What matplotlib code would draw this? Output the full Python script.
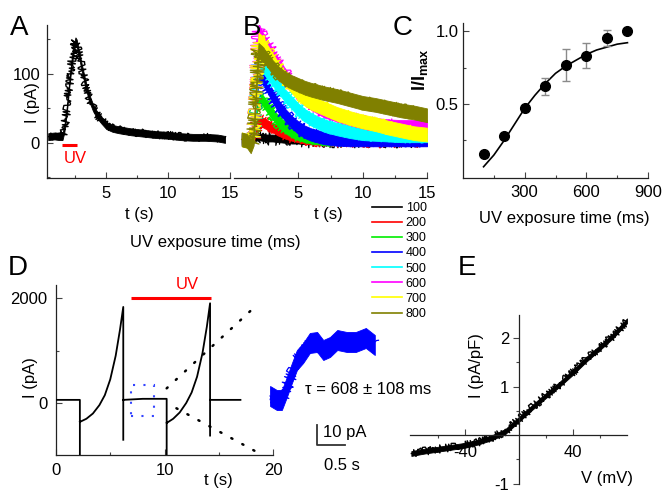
import numpy as np
import matplotlib
matplotlib.use('Agg')
import matplotlib.pyplot as plt
from matplotlib.lines import Line2D
from matplotlib.patches import Rectangle
from matplotlib.ticker import FixedLocator

plt.rcParams['font.family'] = ['Liberation Sans', 'DejaVu Sans']
plt.rcParams['mathtext.default'] = 'regular'
plt.rcParams['axes.unicode_minus'] = False

# ---------------- data ----------------
# Panel A : single response (t in s, I in pA)
a_t = [0.3, 0.8, 1.2, 1.45, 1.6, 1.8, 2.0, 2.2, 2.4, 2.5, 2.6, 2.8, 3.0, 3.3, 3.6, 3.9,
       4.2, 4.6, 5.0, 5.5, 6.0, 7.0, 8.0, 9.0, 10.0, 11.0, 12.0, 13.0, 14.0, 14.6]
a_i = [9, 10, 9, 9, 20, 48, 85, 118, 140, 148, 145, 128, 110, 86, 66, 52,
       42, 33, 25, 21, 19, 16, 14, 12, 11, 9, 8, 8, 7, 5]
a_noise = 5
a_uv = [1.45, 2.65]

# Panel B : responses for different UV exposure times
b_t = [0.6, 1.0, 1.3, 1.5, 1.7, 1.9, 2.2, 2.6, 3.0, 3.5, 4.0, 4.5, 5.0, 5.5, 6.0,
       7.0, 8.0, 9.0, 10.0, 11.0, 12.0, 13.0, 14.0, 15.0]
b_labels = ['100', '200', '300', '400', '500', '600', '700', '800']
b_100 = [5, 3, 0, 5, 8, 9, 8, 7, 7, 6, 5, 4, 4, 3, 3, 3, 3, 3, 3, 3, 3, 3, 3, 3]
b_200 = [5, 3, 0, 5, 20, 33, 30, 26, 22, 17, 13, 10, 8, 6, 5, 4, 4, 3, 3, 3, 3, 3, 3, 3]
b_300 = [5, 3, 0, 5, 40, 68, 62, 52, 42, 30, 22, 16, 12, 9, 7, 5, 5, 5, 5, 6, 6, 6, 8, 10]
b_400 = [5, 3, 0, 5, 55, 100, 95, 82, 68, 52, 40, 30, 22, 16, 12, 7, 5, 4, 4, 4, 4, 4, 4, 4]
b_500 = [5, 3, 0, 5, 60, 115, 112, 102, 92, 80, 68, 58, 48, 40, 34, 25, 20, 16, 13, 12, 11, 10, 10, 10]
b_600 = [5, 3, 0, 5, 80, 165, 152, 140, 128, 112, 98, 85, 73, 64, 57, 46, 40, 35, 30, 27, 25, 24, 24, 24]
b_700 = [5, 3, 0, 5, 75, 150, 145, 132, 120, 105, 93, 82, 72, 64, 58, 50, 42, 36, 31, 27, 22, 18, 14, 12]
b_800 = [5, 3, -5, 5, 70, 135, 130, 120, 110, 100, 93, 88, 84, 80, 77, 72, 68, 63, 58, 55, 51, 47, 44, 40]
b_noise = [5, 7, 8, 9, 9, 9, 10, 10]
b_colors = ['#000000', '#ff0000', '#00ee00', '#0000ff', '#00ffff', '#ff00ff', '#ffff00', '#808000']

# Panel C : normalized response vs UV exposure time
c_x = [100, 200, 300, 400, 500, 600, 700, 800]
c_y = [0.16, 0.28, 0.47, 0.62, 0.77, 0.83, 0.95, 1.00]
c_err = [0.0, 0.0, 0.0, 0.055, 0.11, 0.085, 0.055, 0.0]
c_fit_x = [100, 150, 200, 250, 300, 350, 400, 450, 500, 550, 600, 650, 700, 750, 800]
c_fit_y = [0.07, 0.15, 0.25, 0.36, 0.47, 0.56, 0.64, 0.71, 0.76, 0.80, 0.84, 0.87, 0.89, 0.91, 0.92]

# Panel D : ramp protocol currents (t in s, I in pA)
nan = np.nan
d_t = [0, 2.2, 2.2, nan, 2.2, 2.8, 3.4, 4.0, 4.5, 5.0, 5.5, 5.9, 6.2, 6.2, nan,
       6.2, 8.0, 10.2, 10.2, nan,
       10.2, 10.8, 11.4, 12.0, 12.5, 13.0, 13.5, 13.9, 14.2, 14.2, nan, 14.2, 17.0]
d_i = [60, 60, -1000, nan, -360, -300, -200, -40, 150, 450, 900, 1400, 1830, -700, nan,
       60, 80, 80, -1000, nan,
       -380, -300, -180, 0, 200, 500, 950, 1450, 1900, -620, nan, 60, 60]
d_uv = [6.95, 14.3]
d_uv_level = 2000
d_box_t = [6.95, 9.0]
d_box_i = [-250, 340]
d_guide_up_t = [10.2, 17.9]
d_guide_up_i = [280, 1750]
d_guide_dn_t = [11.1, 18.3]
d_guide_dn_i = [-100, -910]

# Inset : zoomed current (t in s, I in pA)
in_t = [0.18, 0.30, 0.39, 0.48, 0.57, 0.66, 0.77, 0.89, 1.02, 1.13, 1.25, 1.38, 1.55, 1.71, 1.89, 2.05]
in_i = [2, 0, 0, 6.5, 13.5, 20, 23.5, 28.5, 29, 25, 26.5, 30, 29, 29, 31, 27.5]
in_noise = 5
sb_origin = (1.02, -22.5)
sb_t = 0.5
sb_i = 10

# Panel E : I-V relation
e_v = [-80, -70, -60, -50, -40, -30, -20, -10, 0, 10, 20, 30, 40, 50, 60, 70, 80]
e_i = [-0.38, -0.33, -0.29, -0.25, -0.21, -0.14, -0.05, 0.08, 0.33, 0.58, 0.82, 1.05,
       1.30, 1.57, 1.81, 2.06, 2.36]
e_noise = 0.05

# ---------------- figure ----------------
W, H = 666, 491
fig = plt.figure(figsize=(W / 100, H / 100), dpi=100)


def px_axes(l, t, r, b):
    ax = fig.add_axes([l / W, 1 - b / H, (r - l) / W, (b - t) / H])
    ax.patch.set_alpha(0)
    return ax


def ftext(x, y, s, **kw):
    kw.setdefault('ha', 'center')
    kw.setdefault('va', 'center')
    kw.setdefault('fontsize', 12)
    return fig.text(x / W, 1 - y / H, s, **kw)


def style(ax, direction='in'):
    for s in ['top', 'right']:
        ax.spines[s].set_visible(False)
    for s in ['left', 'bottom']:
        ax.spines[s].set_color('#222222')
        ax.spines[s].set_linewidth(0.9)
    ax.tick_params(which='both', direction=direction, labelsize=12, width=0.8, color='#444444')
    ax.tick_params(which='major', length=4)
    ax.tick_params(which='minor', length=2.5)


def noisy(ax, x, y, half, color, jitter, z=2, lw=1.0):
    """Noisy recording drawn as a band plus a sketched (jagged) line."""
    y = np.asarray(y, float)
    ax.fill_between(x, y - half, y + half, color=color, lw=0.6, zorder=z)
    ln, = ax.plot(x, y, color=color, lw=lw, zorder=z)
    ln.set_sketch_params(scale=jitter, length=1.0, randomness=2)


# ---- Panel A ----
axA = px_axes(47, 25, 230, 178)
style(axA)
noisy(axA, a_t, a_i, a_noise, 'black', jitter=4, lw=1.0)
axA.plot(a_uv, [-3, -3], color='#ff0000', lw=2.2, solid_capstyle='butt')
axA.text(2.5, -23, 'UV', color='#ff0000', fontsize=12, ha='center', va='center')
axA.set_xlim(0.2, 15)
axA.set_ylim(-51, 171)
axA.xaxis.set_major_locator(FixedLocator([5, 10, 15]))
axA.xaxis.set_minor_locator(FixedLocator([2.5, 7.5, 12.5]))
axA.yaxis.set_major_locator(FixedLocator([0, 100]))
axA.yaxis.set_minor_locator(FixedLocator([-50, 50, 150]))
axA.tick_params(axis='x', pad=6)
axA.tick_params(axis='y', pad=5)
ftext(139, 215, 't (s)')
ftext(32, 103, 'I (pA)', rotation=90)

# ---- Panel B ----
axB = px_axes(234, 25, 427, 178)
style(axB)
axB.spines['left'].set_visible(False)
axB.tick_params(axis='y', left=False, labelleft=False)
for k, (vals, nz, col) in enumerate(zip([b_100, b_200, b_300, b_400, b_500, b_600, b_700, b_800],
                                        b_noise, b_colors)):
    noisy(axB, b_t, vals, nz, col, jitter=7, z=2 + k * 0.01, lw=0.9)
axB.set_xlim(0, 15)
axB.set_ylim(-51, 171)
axB.xaxis.set_major_locator(FixedLocator([5, 10, 15]))
axB.xaxis.set_minor_locator(FixedLocator([2.5, 7.5, 12.5]))
axB.tick_params(axis='x', pad=6)
ftext(328, 215, 't (s)')
handles = [Line2D([], [], color=c, lw=1.2) for c in b_colors]
axB.legend(handles, b_labels, loc='upper left', bbox_to_anchor=(372 / W, 1 - 202 / H),
           bbox_transform=fig.transFigure, frameon=False, fontsize=9, handlelength=2.4,
           handletextpad=0.3, labelspacing=0.25, borderpad=0, borderaxespad=0)
ftext(215, 243, 'UV exposure time (ms)')

# ---- Panel C ----
axC = px_axes(463, 23, 648, 178)
style(axC)
axC.plot(c_fit_x, c_fit_y, color='black', lw=1.2, zorder=2)
axC.errorbar(c_x, c_y, yerr=c_err, fmt='o', color='black', ms=7, ecolor='#8a8a8a',
             elinewidth=1, capsize=3, capthick=1, zorder=3)
axC.set_xlim(0, 900)
axC.set_ylim(-0.007, 1.055)
axC.xaxis.set_major_locator(FixedLocator([300, 600, 900]))
axC.xaxis.set_minor_locator(FixedLocator([150, 450, 750]))
axC.yaxis.set_major_locator(FixedLocator([0.5, 1.0]))
axC.yaxis.set_minor_locator(FixedLocator([0.25, 0.75]))
axC.tick_params(axis='x', pad=5)
axC.tick_params(axis='y', pad=3)
ftext(564, 218, 'UV exposure time (ms)')
ftext(420, 70, 'I/I$_{max}$', rotation=90, fontsize=13, fontweight='bold')

# ---- Panel D ----
axD = px_axes(56, 285, 273, 455)
style(axD)
axD.plot(d_t, d_i, color='black', lw=1.3, zorder=3)
axD.plot(d_uv, [d_uv_level, d_uv_level], color='#ff0000', lw=2.2, solid_capstyle='butt', clip_on=False)
axD.text(12.1, 2250, 'UV', color='#ff0000', fontsize=12, ha='center', va='center')
axD.add_patch(Rectangle((d_box_t[0], d_box_i[0]), d_box_t[1] - d_box_t[0], d_box_i[1] - d_box_i[0],
                        fill=False, edgecolor='#3344ff', lw=1.5, linestyle=(0, (1, 4))))
axD.plot(d_guide_up_t, d_guide_up_i, color='black', lw=1.8, linestyle=(0, (0.5, 4.5)),
         dash_capstyle='round', clip_on=False)
axD.plot(d_guide_dn_t, d_guide_dn_i, color='black', lw=1.8, linestyle=(0, (0.5, 4.5)),
         dash_capstyle='round', clip_on=False)
axD.set_xlim(0, 20)
axD.set_ylim(-990, 2248)
axD.xaxis.set_major_locator(FixedLocator([0, 10, 20]))
axD.xaxis.set_minor_locator(FixedLocator([5, 15]))
axD.yaxis.set_major_locator(FixedLocator([0, 2000]))
axD.yaxis.set_minor_locator(FixedLocator([1000]))
axD.tick_params(axis='both', pad=6)
ftext(218, 481, 't (s)')
ftext(31, 378, 'I (pA)', rotation=90)

# ---- Inset ----
axIn = px_axes(260, 320, 440, 475)
axIn.axis('off')
noisy(axIn, in_t, in_i, in_noise, '#0000ff', jitter=6, lw=0.9)
axIn.plot([sb_origin[0], sb_origin[0], sb_origin[0] + sb_t],
          [sb_origin[1] + sb_i, sb_origin[1], sb_origin[1]], color='#333333', lw=1.3)
axIn.text(sb_origin[0] + 0.1, sb_origin[1] + 6, '10 pA', fontsize=12, ha='left', va='center')
axIn.text(sb_origin[0] + 0.44, sb_origin[1] - 10, '0.5 s', fontsize=12, ha='center', va='center')
axIn.text(0.80, 5, 'τ = 608 ± 108 ms', fontsize=12, ha='left', va='center')
axIn.set_xlim(0, 180 / 56)
axIn.set_ylim(-37.5, 40)

# ---- Panel E ----
axE = px_axes(410, 315, 627, 484)
style(axE, direction='out')
axE.set_axisbelow(True)
axE.spines['left'].set_position(('data', 0))
axE.spines['bottom'].set_position(('data', 0))
noisy(axE, e_v, e_i, e_noise, 'black', jitter=4, lw=1.0)
axE.set_xlim(-81, 80)
axE.set_ylim(-1.01, 2.48)
axE.xaxis.set_major_locator(FixedLocator([-40, 40]))
axE.xaxis.set_minor_locator(FixedLocator([-60, -20, 20, 60]))
axE.yaxis.set_major_locator(FixedLocator([-1, 1, 2]))
axE.yaxis.set_minor_locator(FixedLocator([-0.5, 0.5, 1.5]))
axE.tick_params(axis='x', direction='in', pad=7)
axE.tick_params(axis='y', pad=3)
for lab in axE.get_yticklabels():
    lab.set_verticalalignment('center_baseline')
ftext(607, 479, 'V (mV)')
ftext(476, 366, 'I (pA/pF)', rotation=90)

# ---- panel letters ----
for letter, x, y in [('A', 10, 35), ('B', 243, 35), ('C', 393, 35), ('D', 8, 275), ('E', 458, 275)]:
    fig.text(x / W, 1 - y / H, letter, fontsize=20, ha='left', va='baseline')

fig.savefig('out.png', dpi=100)
